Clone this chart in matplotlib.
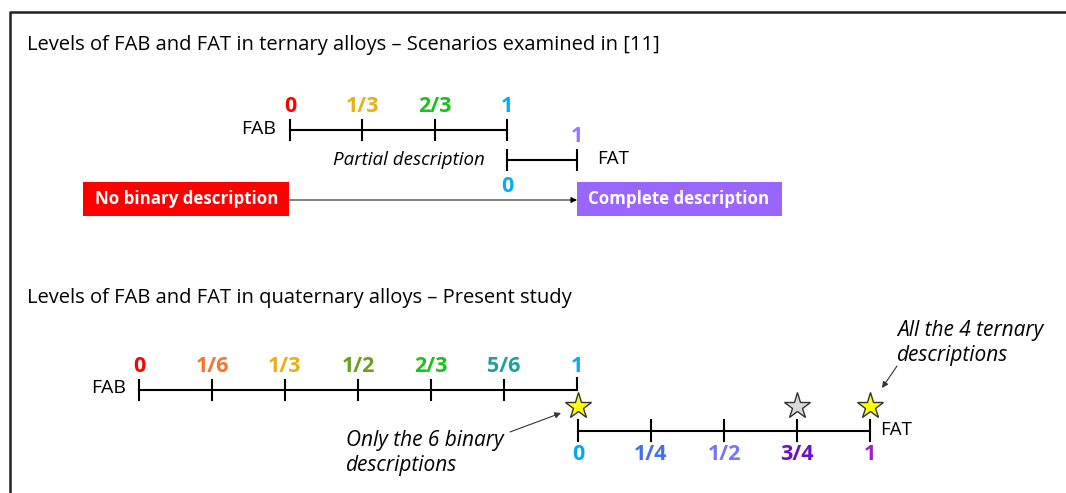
import matplotlib
matplotlib.use("Agg")
import matplotlib.pyplot as plt
from fractions import Fraction

# ---- data ----
tern_fab_labels = ["0", "1/3", "2/3", "1"]
tern_fab_colors = ["#FF0000", "#E8B010", "#19C319", "#00B0F0"]
tern_fat_labels = ["0", "1"]
tern_fat_colors = ["#00B0F0", "#A070FF"]
quat_fab_labels = ["0", "1/6", "1/3", "1/2", "2/3", "5/6", "1"]
quat_fab_colors = ["#FF0000", "#F5742A", "#E8B010", "#6B9E1F", "#19C319", "#1FA09A", "#00B0F0"]
quat_fat_labels = ["0", "1/4", "1/2", "3/4", "1"]
quat_fat_colors = ["#00A8F0", "#4070F0", "#7575F8", "#6A10C8", "#A020C8"]
star_levels = ["0", "3/4", "1"]
star_colors = ["#FFFF00", "#D9D9D9", "#FFFF00"]

title1 = "Levels of FAB and FAT in ternary alloys \u2013 Scenarios examined in [11]"
title2 = "Levels of FAB and FAT in quaternary alloys \u2013 Present study"

FONT = "Open Sans"
LAB_FS = 15.5
W, H = 1066, 493
fig = plt.figure(figsize=(W / 100, H / 100), dpi=100)
ax = fig.add_axes([0, 0, 1, 1])
ax.set_xlim(0, W)
ax.set_ylim(H, 0)
ax.axis("off")

# frame
ax.plot([9.5, 9.5, W], [H, 11.5, 11.5], color="#222222", lw=1.8, solid_capstyle="butt")


def fval(s):
    return float(Fraction(s))


def draw_axis(x0, x1, y, labels, colors, tick_half, lab_dy, fs, skip_ticks=()):
    ax.plot([x0, x1], [y, y], color="black", lw=1.5)
    for lab, c in zip(labels, colors):
        x = x0 + fval(lab) * (x1 - x0)
        if lab not in skip_ticks:
            ax.plot([x, x], [y - tick_half, y + tick_half], color="black", lw=1.5)
        ax.text(x, y + lab_dy, lab, color=c, fontsize=fs, fontweight="bold",
                ha="center", va="center", family=FONT)


# titles
ax.text(27, 45, title1, fontsize=14.5, ha="left", va="center", family=FONT)
ax.text(27, 298, title2, fontsize=14.5, ha="left", va="center", family=FONT)

# ---- ternary ----
draw_axis(290, 507, 130, tern_fab_labels, tern_fab_colors, 10, -24, LAB_FS)
ax.text(276, 129, "FAB", fontsize=14, ha="right", va="center", family=FONT)
ax.plot([507, 577], [160, 160], color="black", lw=1.5)
for lab, c in zip(tern_fat_labels, tern_fat_colors):
    x = 507 + fval(lab) * (577 - 507)
    ax.plot([x, x], [150, 170], color="black", lw=1.5)
    dy = 26 if lab == "0" else -24
    ax.text(x, 160 + dy, lab, color=c, fontsize=LAB_FS, fontweight="bold",
            ha="center", va="center", family=FONT)
ax.text(597, 159, "FAT", fontsize=13.5, ha="left", va="center", family=FONT)
ax.text(409, 160, "Partial description", fontsize=13.5, style="italic",
        ha="center", va="center", family=FONT)

# boxes
ax.add_patch(plt.Rectangle((83, 182), 206, 34, color="#FF0000", lw=0))
ax.add_patch(plt.Rectangle((577, 182), 205, 34, color="#9966FF", lw=0))
ax.text(187, 199, "No binary description", color="white", fontsize=12.2,
        fontweight="bold", ha="center", va="center", family=FONT)
ax.text(679, 199, "Complete description", color="white", fontsize=12.2,
        fontweight="bold", ha="center", va="center", family=FONT)
ax.annotate("", xy=(577, 200), xytext=(289, 200),
            arrowprops=dict(arrowstyle="-|>", color="black", lw=0.7,
                            mutation_scale=9, shrinkA=0, shrinkB=0))

# ---- quaternary ----
draw_axis(139, 577, 390, quat_fab_labels, quat_fab_colors, 10, -24, LAB_FS,
          skip_ticks=("1",))
ax.plot([577, 577], [378, 390], color="black", lw=1.5)
ax.text(126, 388, "FAB", fontsize=14, ha="right", va="center", family=FONT)

fat_x0, fat_x1, fat_y = 578, 870, 431
ax.plot([fat_x0, fat_x1], [fat_y, fat_y], color="black", lw=1.5)
for lab, c in zip(quat_fat_labels, quat_fat_colors):
    x = fat_x0 + fval(lab) * (fat_x1 - fat_x0)
    ax.plot([x, x], [fat_y - 11, fat_y + 10], color="black", lw=1.5)
    ax.text(x, fat_y + 24, lab, color=c, fontsize=LAB_FS, fontweight="bold",
            ha="center", va="center", family=FONT)
ax.text(880, 430, "FAT", fontsize=13.5, ha="left", va="center", family=FONT)

for lab, c in zip(star_levels, star_colors):
    x = fat_x0 + fval(lab) * (fat_x1 - fat_x0)
    ax.plot([x], [406], marker="*", markersize=20, markerfacecolor=c,
            markeredgecolor="#333333", markeredgewidth=1.0, linestyle="none")

ax.text(346, 453, "Only the 6 binary\ndescriptions", fontsize=15, style="italic",
        ha="left", va="center", family=FONT, linespacing=1.2)
ax.annotate("", xy=(561, 413), xytext=(510, 432),
            arrowprops=dict(arrowstyle="-|>", color="#333333", lw=0.8,
                            mutation_scale=9, shrinkA=0, shrinkB=0))
ax.text(897, 343, "All the 4 ternary\ndescriptions", fontsize=15, style="italic",
        ha="left", va="center", family=FONT, linespacing=1.2)
ax.annotate("", xy=(882, 388), xytext=(897, 366),
            arrowprops=dict(arrowstyle="-|>", color="#333333", lw=0.8,
                            mutation_scale=9, shrinkA=0, shrinkB=0))

fig.savefig("out.png", dpi=100, facecolor="white")
